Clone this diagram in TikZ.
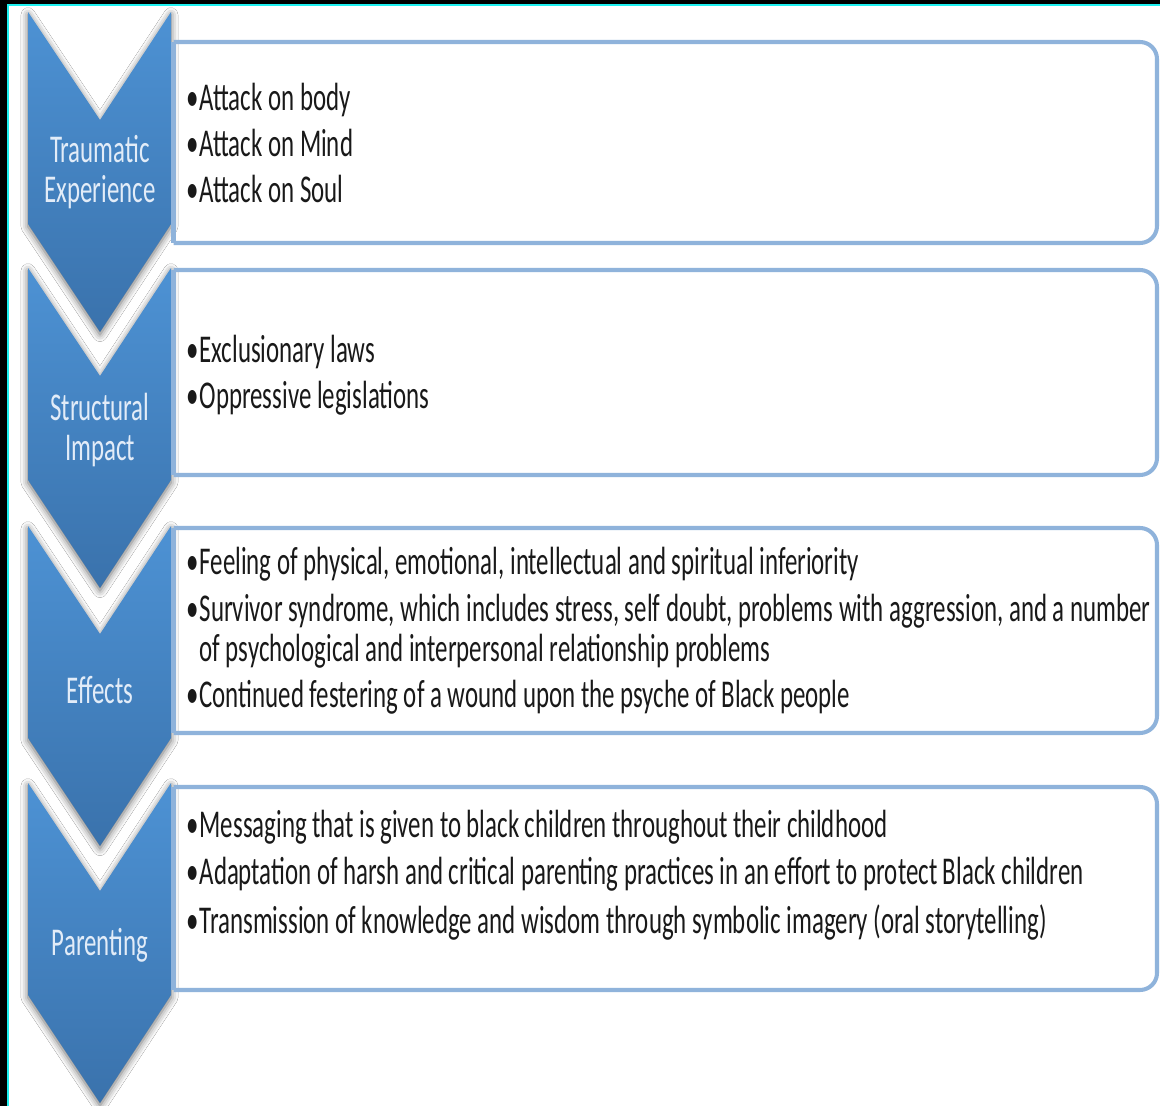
\documentclass[tikz,border=0pt]{standalone}
\usepackage{fontspec}
\setmainfont{Carlito}[FakeStretch=0.632]
\usetikzlibrary{shadows.blur}
\definecolor{chevtop}{RGB}{77,146,212}
\definecolor{chevbot}{RGB}{58,114,172}
\definecolor{framecol}{RGB}{143,179,219}
\definecolor{edgecyan}{RGB}{30,240,240}
\definecolor{labelcol}{RGB}{226,236,248}
\newcommand{\bul}{•\hspace{0.5pt}}

\begin{document}
\begin{tikzpicture}[scale=0.2]
			\tikzstyle{every node}+=[inner sep=0pt]
			\tikzstyle{chevron}=[top color=chevtop, bottom color=chevbot, blur shadow={shadow xshift=0pt, shadow yshift=-1.5pt, shadow blur radius=4pt, shadow opacity=60}]
			\tikzstyle{frame}=[framecol, line width=2.3pt]
			\tikzstyle{stage}=[labelcol, align=center, font=\fontsize{22.4}{22.4}\selectfont]
			\tikzstyle{items}=[anchor=west, align=left, black!90, font=\fontsize{22.4}{23}\selectfont]
			\useasboundingbox (0,0) rectangle (116,-110.6);
			\fill [black] (0,0) rectangle (116,-110.6);
			\fill [white] (0.8,-0.5) rectangle (116,-110.6);
			\draw [edgecyan, line width=1.1pt] (0.8,-110.6) -- (0.8,-0.5) -- (116,-0.5);
			\path [chevron] (2.8,-1.2) -- (10,-12) -- (17.1,-1.2) -- (17.1,-22.4) -- (10,-33.2) -- (2.8,-22.4) -- cycle;
			\path [chevron] (2.8,-26.8) -- (10,-37.6) -- (17.1,-26.8) -- (17.1,-48) -- (10,-58.8) -- (2.8,-48) -- cycle;
			\path [chevron] (2.8,-52.6) -- (10,-63.4) -- (17.1,-52.6) -- (17.1,-73.8) -- (10,-84.6) -- (2.8,-73.8) -- cycle;
			\path [chevron] (2.8,-78.3) -- (10,-89.1) -- (17.1,-78.3) -- (17.1,-99.5) -- (10,-110.3) -- (2.8,-99.5) -- cycle;
			\draw [frame] (17.35,-4.2) -- (17.35,-24.3);
			\draw [frame, rounded corners=0.34cm] (17.35,-4.2) -- (115.7,-4.2) -- (115.7,-24.3) -- (17.35,-24.3);
			\draw [frame] (17.35,-27) -- (17.35,-47.5);
			\draw [frame, rounded corners=0.34cm] (17.35,-27) -- (115.7,-27) -- (115.7,-47.5) -- (17.35,-47.5);
			\draw [frame] (17.35,-52.8) -- (17.35,-73.3);
			\draw [frame, rounded corners=0.34cm] (17.35,-52.8) -- (115.7,-52.8) -- (115.7,-73.3) -- (17.35,-73.3);
			\draw [frame] (17.35,-78.7) -- (17.35,-99);
			\draw [frame, rounded corners=0.34cm] (17.35,-78.7) -- (115.7,-78.7) -- (115.7,-99) -- (17.35,-99);
			\node [stage] (trauma) at (10,-17.2) {Traumatic\\Experience};
			\node [stage] (struct) at (10,-43) {Structural\\Impact};
			\node [stage] (effect) at (10,-69) {Effects};
			\node [stage] (parent) at (10,-94.5) {Parenting};
			\node [items] (traumalist) at (18.6,-14.3) {\bul Attack on body\\[3.4pt]\bul Attack on Mind\\[3.4pt]\bul Attack on Soul};
			\node [items] (structlist) at (18.6,-37.5) {\bul Exclusionary laws\\[3.4pt]\bul Oppressive legislations};
			\node [items] (effectlist) at (18.6,-63.1) {\bul Feeling of physical, emotional, intellectual and spiritual inferiority\\[3.4pt]\bul Survivor syndrome, which includes stress, self doubt, problems with aggression, and a number\\\hphantom{\bul}of psychological and interpersonal relationship problems\\[3.4pt]\bul Continued festering of a wound upon the psyche of Black people};
			\node [items] (parentlist) at (18.6,-87.5) {\bul Messaging that is given to black children throughout their childhood\\[3.8pt]\bul Adaptation of harsh and critical parenting practices in an effort to protect Black children\\[4.6pt]\bul Transmission of knowledge and wisdom through symbolic imagery (oral storytelling)};
			\end{tikzpicture}
\end{document}
